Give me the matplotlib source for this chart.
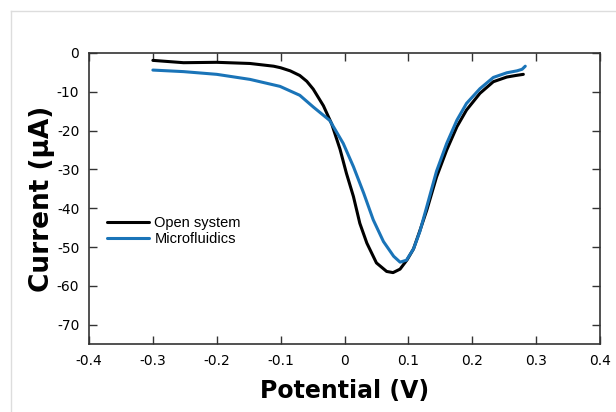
import matplotlib
matplotlib.use("Agg")
import matplotlib.pyplot as plt
from matplotlib.lines import Line2D

# potential (V) and current (uA)
open_v = [-0.300, -0.252, -0.200, -0.148, -0.111, -0.100, -0.085, -0.070, -0.059, -0.049,
          -0.033, -0.020, -0.007, 0.003, 0.014, 0.024, 0.035, 0.050, 0.066, 0.076,
          0.087, 0.098, 0.108, 0.118, 0.129, 0.144, 0.160, 0.176, 0.191, 0.212,
          0.233, 0.254, 0.268, 0.280]
open_i = [-1.9, -2.5, -2.4, -2.7, -3.4, -3.8, -4.6, -5.8, -7.3, -9.3,
          -13.6, -18.3, -24.8, -31.0, -37.0, -43.9, -49.0, -54.1, -56.3, -56.6,
          -55.7, -53.3, -50.5, -45.8, -40.4, -32.0, -25.0, -19.0, -14.7, -10.4,
          -7.4, -6.2, -5.8, -5.5]

micro_v = [-0.300, -0.252, -0.200, -0.148, -0.101, -0.070, -0.049, -0.023, -0.002, 0.014,
           0.030, 0.045, 0.061, 0.077, 0.087, 0.097, 0.108, 0.118, 0.129, 0.144,
           0.160, 0.176, 0.191, 0.212, 0.233, 0.254, 0.270, 0.278, 0.283]
micro_i = [-4.4, -4.8, -5.5, -6.8, -8.6, -10.9, -13.9, -17.4, -23.3, -29.3,
           -36.1, -43.0, -48.6, -52.4, -53.9, -53.4, -50.5, -46.0, -39.5, -30.5,
           -23.3, -17.3, -13.0, -9.2, -6.3, -5.1, -4.6, -4.2, -3.4]

x_ticks = [-0.4, -0.3, -0.2, -0.1, 0, 0.1, 0.2, 0.3, 0.4]
x_labels = ["-0.4", "-0.3", "-0.2", "-0.1", "0", "0.1", "0.2", "0.3", "0.4"]
y_ticks = [0, -10, -20, -30, -40, -50, -60, -70]
y_labels = ["0", "-10", "-20", "-30", "-40", "-50", "-60", "-70"]

fig = plt.figure(figsize=(6.16, 4.12), dpi=100)
ax = fig.add_axes([89 / 616, 1 - 344 / 412, 511 / 616, 291 / 412])

ax.plot(open_v, open_i, color="black", lw=2.2, solid_joinstyle="round",
        solid_capstyle="round", label="Open system")
ax.plot(micro_v, micro_i, color="#1a74b8", lw=2.2, solid_joinstyle="round",
        solid_capstyle="round", label="Microfluidics")

ax.set_xlim(-0.4, 0.4)
ax.set_ylim(-75, 0)
ax.set_xticks(x_ticks)
ax.set_xticklabels(x_labels)
ax.set_yticks(y_ticks)
ax.set_yticklabels(y_labels)
ax.tick_params(direction="in", top=True, right=True, length=6, width=1,
               labelsize=10, colors="#333333", labelcolor="black", pad=7)
for side in ax.spines.values():
    side.set_linewidth(1.2)
    side.set_color("#333333")

ax.set_xlabel("Potential (V)", fontsize=17, fontweight="bold", labelpad=8)
ax.set_ylabel("Current (μA)", fontsize=19, fontweight="bold", labelpad=1)

ax.legend(loc="upper left", bbox_to_anchor=(0.015, 0.475), frameon=False,
          handlelength=2.9, handletextpad=0.35, labelspacing=0.15,
          borderpad=0.2, prop={"family": "Liberation Sans", "size": 10.5})

# thin grey frame around the figure (top and left only)
fig.add_artist(Line2D([11 / 616, 1], [1 - 11 / 412, 1 - 11 / 412], color="#dddddd", lw=1))
fig.add_artist(Line2D([11 / 616, 11 / 616], [0, 1 - 11 / 412], color="#dddddd", lw=1))

fig.savefig("out.png", dpi=100)
